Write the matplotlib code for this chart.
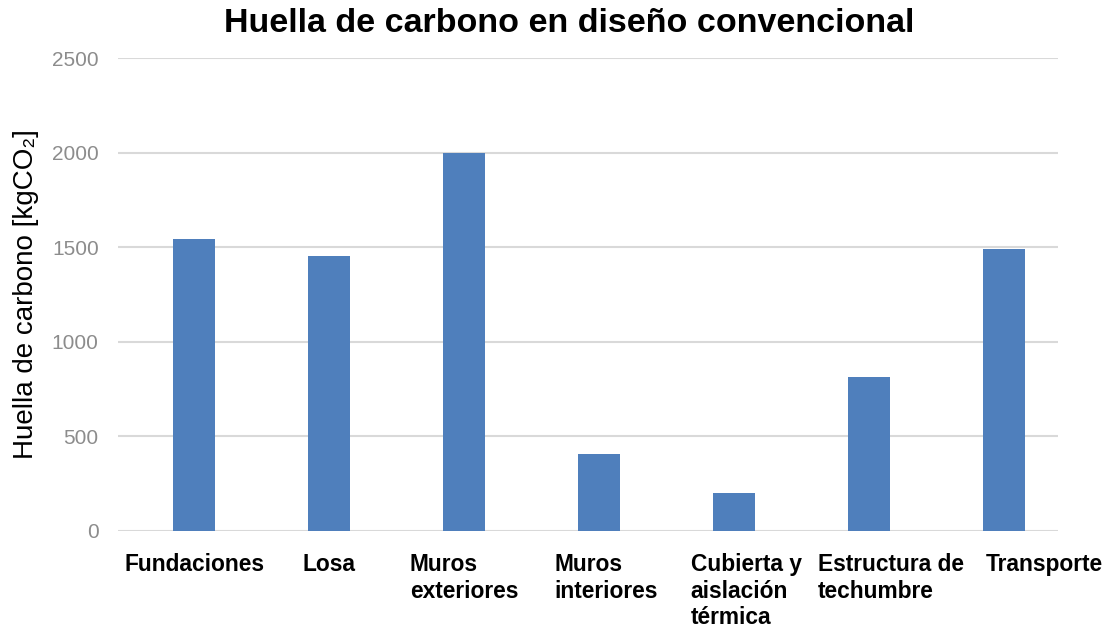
import matplotlib.pyplot as plt
import matplotlib.transforms as mtransforms

plt.rcParams['font.family'] = ['Liberation Sans', 'DejaVu Sans']

# Huella de carbono por partida (kgCO2)
categorias = ['Fundaciones', 'Losa', 'Muros\nexteriores', 'Muros\ninteriores',
              'Cubierta y\naislación\ntérmica', 'Estructura de\ntechumbre', 'Transporte']
valores = [1545, 1455, 2000, 407, 202, 812, 1488]
yticks = [0, 500, 1000, 1500, 2000, 2500]

fig = plt.figure(figsize=(11.14, 6.31), dpi=100)
ax = fig.add_axes([0.106, 0.1585, 0.8437, 0.7495])

x = range(len(categorias))
ax.bar(x, valores, width=0.31, color='#4f7fbc', zorder=3)

ax.set_xlim(-0.563, 6.4)
ax.set_ylim(0, 2500)
ax.set_yticks(yticks)
ax.set_yticklabels([str(v) for v in yticks], color='#8c8c8c', fontsize=15)
ax.tick_params(axis='y', length=0, pad=14)

ax.set_xticks(list(x))
ax.set_xticklabels(categorias, fontsize=16.4, fontweight='bold',
                   ha='center', multialignment='left', linespacing=1.2)
ax.tick_params(axis='x', length=0, pad=16)

# desplazar un poco las etiquetas largas hacia la derecha (en px)
desplazamientos = [0, 0, 0, 7, 12, 22, 40]
for lbl, dx in zip(ax.get_xticklabels(), desplazamientos):
    lbl.set_transform(lbl.get_transform() +
                      mtransforms.ScaledTranslation(dx / 100, 0, fig.dpi_scale_trans))

ax.grid(axis='y', color='#d9d9d9', linewidth=1.5, zorder=0)
for s in ax.spines.values():
    s.set_visible(False)

ax.set_ylabel('Huella de carbono [kgCO₂]', fontsize=20)
ax.yaxis.set_label_coords(-0.084, 0.5)

fig.text(0.511, 0.963, 'Huella de carbono en diseño convencional',
         ha='center', va='center', fontsize=24.5, fontweight='bold')

fig.savefig('out.png', dpi=100, facecolor='white')
